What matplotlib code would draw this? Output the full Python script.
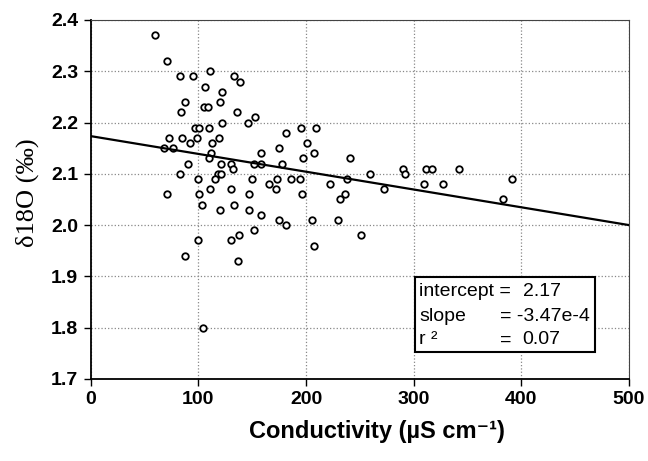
import numpy as np
from matplotlib import pyplot as plt
from matplotlib.patches import Rectangle

# conductivity (uS/cm) and d18O values
conductivity = [60, 71, 83, 95, 111, 133, 139, 106, 122, 88, 120, 105, 109, 84, 136,
                153, 146, 122, 97, 101, 110, 73, 85, 99, 119, 92, 113, 68, 76,
                112, 110, 90, 121, 130, 132, 152, 158, 158, 83, 118, 121, 100, 115,
                150, 71, 101, 111, 130, 147, 103, 133, 120, 147, 158, 152, 100, 130,
                138, 88, 137, 104,
                195, 209, 181, 201, 175, 207, 197, 241, 178, 259, 173, 186, 194, 238,
                166, 222, 272, 172, 196, 236, 232, 175, 181, 206, 230, 251, 207,
                290, 292, 311, 317, 342, 310, 327, 383, 391]
d18o = [2.37, 2.32, 2.29, 2.29, 2.30, 2.29, 2.28, 2.27, 2.26, 2.24, 2.24, 2.23, 2.23, 2.22, 2.22,
        2.21, 2.20, 2.20, 2.19, 2.19, 2.19, 2.17, 2.17, 2.17, 2.17, 2.16, 2.16, 2.15, 2.15,
        2.14, 2.13, 2.12, 2.12, 2.12, 2.11, 2.12, 2.12, 2.14, 2.10, 2.10, 2.10, 2.09, 2.09,
        2.09, 2.06, 2.06, 2.07, 2.07, 2.06, 2.04, 2.04, 2.03, 2.03, 2.02, 1.99, 1.97, 1.97,
        1.98, 1.94, 1.93, 1.80,
        2.19, 2.19, 2.18, 2.16, 2.15, 2.14, 2.13, 2.13, 2.12, 2.10, 2.09, 2.09, 2.09, 2.09,
        2.08, 2.08, 2.07, 2.07, 2.06, 2.06, 2.05, 2.01, 2.00, 2.01, 2.01, 1.98, 1.96,
        2.11, 2.10, 2.11, 2.11, 2.11, 2.08, 2.08, 2.05, 2.09]

# fitted line
intercept = 2.1735
slope = -3.47e-4
x_range = [0, 500]

x_ticks = [0, 100, 200, 300, 400, 500]
y_ticks = [1.7, 1.8, 1.9, 2.0, 2.1, 2.2, 2.3, 2.4]

plt.rcParams['font.family'] = ['Liberation Sans', 'DejaVu Sans']

fig = plt.figure(figsize=(6.48, 4.61), dpi=100)
ax = fig.add_axes([0.14, 0.178, 0.8307, 0.7787])

# dotted grid like the excel chart
ax.grid(True, linestyle=':', color='#888888', linewidth=0.9)
ax.set_axisbelow(True)

ax.scatter(conductivity, d18o, s=22, facecolors='white', edgecolors='black',
           linewidths=1.3, zorder=3)

xs = np.array(x_range)
ax.plot(xs, intercept + slope * xs, color='black', linewidth=1.6, zorder=4)

ax.set_xlim(0, 500)
ax.set_ylim(1.7, 2.4)
ax.set_xticks(x_ticks)
ax.set_yticks(y_ticks)
ax.set_yticklabels(['%.1f' % v for v in y_ticks])
ax.tick_params(direction='out', length=5, width=1, labelsize=14, pad=4)
for lab in ax.get_xticklabels() + ax.get_yticklabels():
    lab.set_fontweight('bold')

for side in ['left', 'bottom']:
    ax.spines[side].set_linewidth(1.3)
for side in ['top', 'right']:
    ax.spines[side].set_linewidth(0.8)
    ax.spines[side].set_color('#444444')

ax.set_xlabel('Conductivity (µS cm⁻¹)', fontsize=17, fontweight='bold')
ax.xaxis.set_label_coords(0.531, -0.115)
ax.set_ylabel('δ18O (‰)', fontsize=19, family=['Liberation Serif', 'DejaVu Serif'])
ax.yaxis.set_label_coords(-0.097, 0.52)

# stats box
ax.add_patch(Rectangle((0.6026, 0.076), 0.3342, 0.2073, transform=ax.transAxes,
                       facecolor='white', edgecolor='black', linewidth=1.5, zorder=5))
rows = [0.2432, 0.1735, 0.1086]
tk = dict(transform=ax.transAxes, fontsize=14, va='center', ha='left', zorder=6)
ax.text(0.610, rows[0], 'intercept =', **tk)
ax.text(0.803, rows[0], '2.17', **tk)
ax.text(0.610, rows[1], 'slope', **tk)
ax.text(0.7605, rows[1], '= -3.47e-4', **tk)
ax.text(0.610, rows[2], 'r ²', **tk)
ax.text(0.7605, rows[2], '=', **tk)
ax.text(0.801, rows[2], '0.07', **tk)

fig.savefig('out.png', dpi=100)
